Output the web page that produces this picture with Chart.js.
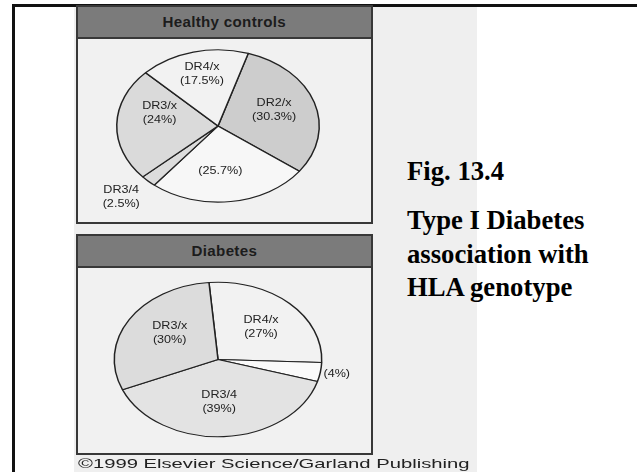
<!DOCTYPE html>
<html>
<head>
<meta charset="utf-8">
<script src="https://cdn.jsdelivr.net/npm/chart.js@4.4.1/dist/chart.umd.min.js"></script>
<style>
  html, body { margin: 0; padding: 0; }
  body { width: 637px; height: 472px; position: relative; overflow: hidden; background: #fff; font-family: "Liberation Sans", Arial, sans-serif; }
  .abs { position: absolute; }
  #frame { left: 12px; top: 4px; width: 640px; height: 480px; border-left: 3px solid #111; border-top: 3px solid #111; }
  #figbg { left: 74px; top: 7px; width: 403px; height: 465px; background: #efefef; }
  .panel { box-sizing: border-box; border: 2px solid #383838; background: #f1f1f1; }
  .panel .head { height: 30px; background: #7b7b7b; border-bottom: 2px solid #383838; text-align: center; }
  .panel .head span { display: inline-block; font: bold 14px "Liberation Sans", Arial, sans-serif; color: #1c1c1c; line-height: 30px; letter-spacing: 0.3px; transform: scaleX(1.08); }
  canvas { position: absolute; }
  .side { left: 407px; font: bold 26.7px "Liberation Serif", "Times New Roman", serif; line-height: 33.3px; color: #000; white-space: nowrap; }
  #copy { left: 78px; top: 456px; font: 13px "Liberation Sans", Arial, sans-serif; line-height: 15px; color: #222; white-space: nowrap; transform-origin: 0 0; }
</style>
</head>
<body>
<div id="frame" class="abs"></div>
<div id="figbg" class="abs"></div>

<div class="abs panel" style="left:76px; top:5px; width:297px; height:219px;">
  <div class="head"><span id="title-top"></span></div>
</div>
<div class="abs panel" style="left:76px; top:234px; width:297px; height:221px;">
  <div class="head"><span id="title-bottom"></span></div>
</div>

<canvas id="pie-top" width="296" height="204" style="left:76px; top:24px;"></canvas>
<canvas id="pie-bottom" width="296" height="209" style="left:76px; top:255px;"></canvas>

<div class="abs side" style="top:155px;">Fig. 13.4</div>
<div class="abs side" style="top:204.3px;">Type I Diabetes<br>association with<br>HLA genotype</div>
<div id="copy" class="abs">©1999 Elsevier Science/Garland Publishing</div>

<script>
// ---------- Data ----------
const controlsTitle = "Healthy controls";
const controlsGenotypes = ["DR2/x", "", "DR3/4", "DR3/x", "DR4/x"];
const controlsPercent = [30.3, 25.7, 2.5, 24, 17.5];

const diabetesTitle = "Diabetes";
const diabetesGenotypes = ["DR4/x", "", "DR3/4", "DR3/x"];
const diabetesPercent = [27, 4, 39, 30];

document.getElementById("title-top").textContent = controlsTitle;
document.getElementById("title-bottom").textContent = diabetesTitle;

// ---------- Plugins ----------
// Pie is drawn circular by Chart.js, then squashed vertically so it reads as a tilted disc.
const ellipsePlugin = {
  id: "ellipse",
  beforeDatasetsDraw(chart, args, opts) {
    const arc = chart.getDatasetMeta(0).data[0];
    const ctx = chart.ctx;
    ctx.save();
    ctx.translate(arc.x, arc.y);
    ctx.scale(1, opts.ratio);
    ctx.translate(-arc.x, -arc.y);
  },
  afterDatasetsDraw(chart) {
    chart.ctx.restore();
  },
};

// Slice labels: genotype name + percentage, placed along each slice's middle angle.
const sliceLabelPlugin = {
  id: "sliceLabels",
  afterDraw(chart, args, opts) {
    const ctx = chart.ctx;
    const ratio = chart.options.plugins.ellipse.ratio;
    const names = chart.data.labels;
    const values = chart.data.datasets[0].data;
    chart.getDatasetMeta(0).data.forEach((arc, i) => {
      const place = opts.place[i];
      const mid = (arc.startAngle + arc.endAngle) / 2 + place.shift * Math.PI / 180;
      const r = arc.outerRadius * place.radius;
      const px = arc.x + r * Math.cos(mid);
      const py = arc.y + r * Math.sin(mid) * ratio;
      const lines = names[i] ? [names[i], `(${values[i]}%)`] : [`(${values[i]}%)`];
      ctx.save();
      ctx.font = "10.5px 'Liberation Sans', Arial, sans-serif";
      ctx.fillStyle = "#222";
      ctx.textAlign = "center";
      ctx.textBaseline = "middle";
      ctx.translate(px, py);
      ctx.scale(1.2, 1);
      lines.forEach((t, j) => ctx.fillText(t, 0, (j - (lines.length - 1) / 2) * 14));
      ctx.restore();
    });
  },
};

function makePie(id, genotypes, percent, colors, rotation, ratio, place) {
  return new Chart(document.getElementById(id), {
    type: "pie",
    data: {
      labels: genotypes,
      datasets: [{
        data: percent,
        backgroundColor: colors,
        borderColor: "#222",
        borderWidth: 1.5,
        borderAlign: "center",
      }],
    },
    options: {
      responsive: false,
      devicePixelRatio: 1,
      animation: false,
      rotation: rotation,
      layout: { padding: { left: 0, right: 12, top: 0, bottom: 0 } },
      plugins: {
        legend: { display: false },
        tooltip: { enabled: false },
        ellipse: { ratio: ratio },
        sliceLabels: { place: place },
      },
    },
    plugins: [ellipsePlugin, sliceLabelPlugin],
  });
}

makePie("pie-top", controlsGenotypes, controlsPercent,
  ["#cdcdcd", "#f7f7f7", "#dcdcdc", "#dadada", "#f2f2f2"],
  17.4, 0.752,
  [
    { shift: -2, radius: 0.59 },
    { shift: 5, radius: 0.59 },
    { shift: 2, radius: 1.34 },
    { shift: 15, radius: 0.6 },
    { shift: 1, radius: 0.7 },
  ]);

makePie("pie-bottom", diabetesGenotypes, diabetesPercent,
  ["#f2f2f2", "#fafafa", "#e3e3e3", "#dcdcdc"],
  -5, 0.745,
  [
    { shift: 1, radius: 0.59 },
    { shift: 0, radius: 1.16 },
    { shift: 2, radius: 0.55 },
    { shift: 5.6, radius: 0.58 },
  ]);

// stretch the credit line to the width it has in the scanned figure
const copyEl = document.getElementById("copy");
copyEl.style.transform = `scaleX(${392 / copyEl.offsetWidth})`;
</script>
</body>
</html>
